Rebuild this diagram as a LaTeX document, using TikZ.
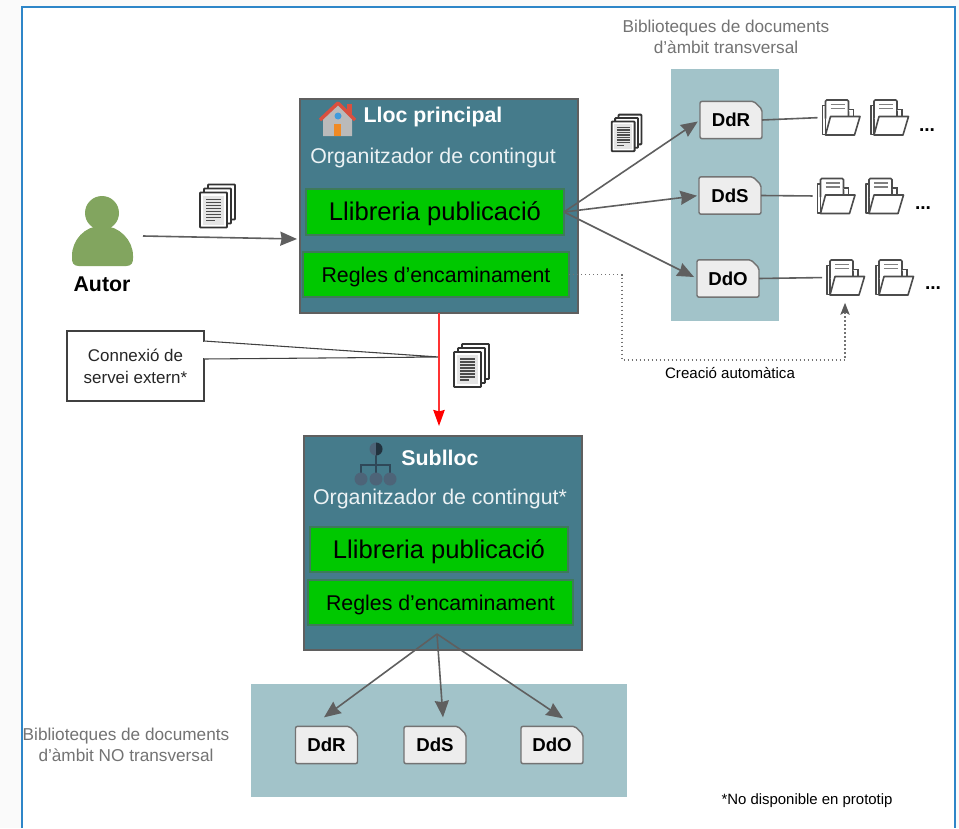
\documentclass[tikz,border=0pt]{standalone}
\usepackage{fontspec}
\setmainfont{Liberation Sans}
\usetikzlibrary{arrows.meta,calc,shapes.misc}
\definecolor{framebl}{HTML}{2E86C8}
\definecolor{sitebg}{HTML}{457B8B}
\definecolor{bandbg}{HTML}{A2C3C9}
\definecolor{libgreen}{HTML}{00C800}
\definecolor{libedge}{HTML}{3E7A5A}
\definecolor{flowgr}{HTML}{5F5F5F}
\definecolor{persongr}{HTML}{82A55F}
\definecolor{orgdark}{HTML}{2F4858}
\definecolor{orgblue}{HTML}{4D6478}
\definecolor{roofred}{HTML}{D9503F}
\definecolor{dooror}{HTML}{F08A24}
\definecolor{windowbl}{HTML}{3F9BDC}
\tikzset{
  sitebox/.style={draw=flowgr,line width=1pt,fill=sitebg,minimum width=208.5pt,minimum height=160.5pt,outer sep=0pt},
  libbox/.style={draw=libedge,line width=1.1pt,fill=libgreen,text=black,outer sep=0pt},
  sitetitle/.style={text=white,font=\bfseries\fontsize{16}{18}\selectfont},
  siteorg/.style={text=white!90!sitebg,font=\fontsize{16}{18}\selectfont},
  tagbox/.style={chamfered rectangle,chamfered rectangle corners=north east,chamfered rectangle xsep=0pt,chamfered rectangle ysep=0pt,
    chamfered rectangle angle=45,chamfered rectangle sep=3pt,rounded corners=1.5pt,draw=black!55,line width=1.1pt,fill=black!7,
    minimum width=46.5pt,minimum height=28pt,inner sep=0pt,outer sep=0pt,font=\bfseries\fontsize{14}{15}\selectfont},
  graytext/.style={text=black!55,align=center,font=\fontsize{12.9}{15.5}\selectfont},
  flow/.style={draw=flowgr,line width=1.2pt,-{Stealth[length=12.5pt,width=10.5pt,inset=1pt]}},
  plainflow/.style={draw=flowgr,line width=1.2pt},
  folderspot/.style={minimum width=28.5pt,minimum height=26pt,inner sep=0pt,outer sep=0pt},
  moredots/.style={font=\bfseries\fontsize{14.4}{15}\selectfont,inner sep=0pt},
  pics/docstack/.style={code={
    \foreach \i in {8,4,0}{
      \draw[draw=black!80,line width=1.4pt,fill=white,rounded corners=.6pt] (-18+\i,-13-\i) rectangle (9+\i,22-\i);
    }
    \fill[black!10] (-15,-10) rectangle (6,19);
    \foreach \j in {-6,-3,...,12}{
      \draw[black!70,line width=1pt] (-12,\j) -- (3,\j);
    }
    \draw[black!70,line width=1pt] (-12,15) -- (-3,15);
  }},
  pics/docfolder/.style={code={
    \draw[black!70,line width=1.2pt,fill=white,line join=round] (-18,-12) -- (-15,-12) -- (-15,15) -- (-15,17) -- (-18,17) -- cycle;
    \draw[black!70,line width=1.2pt,fill=white,rounded corners=1pt] (-15,1) -- (-15,-17.5) -- (8,-17.5) -- (8,1);
    \draw[black!70,line width=1.2pt,fill=white] (8,-8) -- (13,-8) -- (13,0);
    \draw[black!50,line width=1.1pt] (-10,-13) -- (4,-13) (-10,-9) -- (4,-9);
    \draw[black!70,line width=1.2pt,fill=white,line join=round] (-15,17.5) -- (-10,-1) -- (19.5,-1) -- (14,17.5) -- cycle;
  }},
}
\begin{document}
\begin{tikzpicture}[x=.75pt,y=-.75pt]
\useasboundingbox (0,0) rectangle (959,828);
\fill[black!2] (0,0) rectangle (959,828);
\fill[white] (22,7) rectangle (955,828);
\draw[framebl,line width=2pt] (22,828) -- (22,7) -- (955,7) -- (955,828);

\fill[bandbg] (671,69) rectangle (779,321);
\fill[bandbg] (251,684) rectangle (627,797);

\node[graytext] (trtitle) at (726,37) {Biblioteques de documents\\d’àmbit transversal};
\node[graytext] (nttitle) at (126,745) {Biblioteques de documents\\d’àmbit NO transversal};
\node[font=\fontsize{11.2}{13}\selectfont] (nota) at (807,801) {*No disponible en prototip};

\fill[persongr] (102,213) circle (17);
\fill[persongr,rounded corners=1pt] (80,266) .. controls (73,266) and (72,262) .. (72,257) .. controls (72,240) and (85,226) .. (102,226) .. controls (119,226) and (133,240) .. (133,257) .. controls (133,262) and (132,266) .. (125,266) -- cycle;
\node[font=\bfseries\fontsize{16}{18}\selectfont] (autor) at (102,284) {Autor};
\coordinate (autorout) at (143,236);

\node[sitebox] (main) at (439,206) {};
\node[sitetitle] (maintitle) at (433,117) {Lloc principal};
\node[siteorg] (mainorg) at (433,158) {Organitzador de contingut};
\node[libbox,minimum width=193.5pt,minimum height=34.5pt] (lib) at (435,212) {};
\node[font=\fontsize{19.2}{22}\selectfont] (libtext) at (435,214) {Llibreria publicació};
\node[libbox,minimum width=199.5pt,minimum height=33.75pt] (reg) at (436,274.5) {};
\node[font=\fontsize{16}{18}\selectfont] (regtext) at (436,276.5) {Regles d’encaminament};

\fill[black!27] (323,136) -- (323,118) -- (338,104) -- (352,118) -- (352,136) -- cycle;
\fill[dooror] (334,124) rectangle (341,136);
\fill[windowbl] (338,116) circle (3.5);
\fill[roofred] (347,104) rectangle (352,114);
\draw[roofred,line width=2.6pt,line join=round] (320,120) -- (338,103) -- (355,120);

\node[sitebox] (sub) at (443,543) {};
\node[sitetitle] (subtitle) at (440,458) {Sublloc};
\node[siteorg] (suborg) at (440,499) {Organitzador de contingut*};
\node[libbox,minimum width=193.5pt,minimum height=33.75pt] (sublib) at (439,549.5) {};
\node[font=\fontsize{19.2}{22}\selectfont] (sublibtext) at (439,551.5) {Llibreria publicació};
\node[libbox,minimum width=198.75pt,minimum height=33.75pt] (subreg) at (440.5,602.5) {};
\node[font=\fontsize{16}{18}\selectfont] (subregtext) at (440.5,604.5) {Regles d’encaminament};

\draw[orgdark,line width=1.5pt] (376,455) -- (376,465) (361,479) -- (361,465) -- (390,465) -- (390,479) (376,465) -- (376,479);
\fill[orgblue] (361,479) circle (6.5) (376,479) circle (6.5) (390,479) circle (6.5);
\fill[orgblue] (376,449) circle (6.5);
\fill[orgdark!70!black] (376,442.5) arc (-90:90:6.5) -- cycle;

\node[tagbox] (ddr) at (731,120) {\raisebox{-1pt}{DdR}};
\node[tagbox] (dds) at (730,195.5) {\raisebox{-1pt}{DdS}};
\node[tagbox] (ddo) at (728,278.5) {\raisebox{-1pt}{DdO}};
\node[tagbox] (ddrb) at (326.5,745) {\raisebox{-1pt}{DdR}};
\node[tagbox] (ddsb) at (435,745) {\raisebox{-1pt}{DdS}};
\node[tagbox] (ddob) at (552,745) {\raisebox{-1pt}{DdO}};

\node[folderspot] (fr1) at (840.5,117.5) {};
\node[folderspot] (fr2) at (889,117.5) {};
\node[folderspot] (fs1) at (835.5,196) {};
\node[folderspot] (fs2) at (884,196) {};
\node[folderspot] (fo1) at (845,277.5) {};
\node[folderspot] (fo2) at (894,277.5) {};
\foreach \f in {fr1,fr2,fs1,fs2,fo1,fo2}
  \pic at (\f) {docfolder};
\node[moredots] (dotsr) at (927,130) {...};
\node[moredots] (dotss) at (923,208) {...};
\node[moredots] (dotso) at (933,288) {...};

\pic at (218,205.5) {docstack};
\pic[scale=.85] at (627,132.5) {docstack};
\pic at (472,365) {docstack};

\draw[flow] (autorout) -- ($(main.west)+(-3,33)$);
\draw[flow,shorten >=2pt] (lib.east) -- (ddr.west);
\draw[flow,shorten >=1.5pt] (lib.east) -- (dds.west);
\draw[flow,shorten >=2.5pt] (lib.east) -- (ddo.west);
\draw[plainflow,shorten >=3pt] (ddr.east) -- (fr1.west);
\draw[plainflow,shorten >=3pt] (dds.east) -- (fs1.west);
\draw[plainflow,shorten >=3pt] (ddo.east) -- (fo1.west);

\coordinate (apex) at (437,634);
\draw[flow] (apex) -- ($(ddrb.north)+(-2.5,-9)$);
\draw[flow] (apex) -- ($(ddsb.north)+(8,-9)$);
\draw[flow] (apex) -- ($(ddob.north)+(11,-8)$);

\coordinate (bend) at (622,360);
\draw[black!55,line width=1pt,dotted,-{Stealth[length=9pt,width=7pt,inset=2pt,color=black!65]}] (reg.east) -| (bend) -| ($(fo1.south)+(0,8)$);
\node[font=\fontsize{11.3}{13}\selectfont] (creacio) at (730,373) {Creació automàtica};

\node[draw=black!75,line width=.8pt,fill=white,minimum width=102.75pt,minimum height=52.5pt,outer sep=0pt,align=center,text=black!85,font=\fontsize{12.7}{16.5}\selectfont] (extern) at (135.5,366) {Connexió de\\servei extern*};
\coordinate (tip) at (439,357);
\draw[black!75,line width=.8pt,fill=white] ($(extern.north east)+(0,10)$) -- (tip) -- ($(extern.north east)+(0,28)$);
\fill[white] ($(extern.north east)+(-1,11)$) rectangle ($(extern.north east)+(1,27)$);
\draw[red!80!white,line width=1.2pt,-{Stealth[length=12pt,width=8.5pt,inset=1pt,color=red]},shorten >=7.5pt] (main.south) -- (main.south |- sub.north);
\end{tikzpicture}
\end{document}
